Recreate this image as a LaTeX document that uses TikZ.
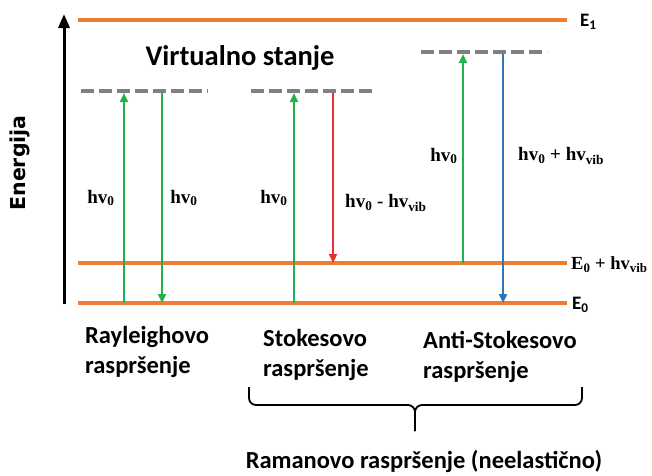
\documentclass[tikz,border=0pt]{standalone}
\usepackage{fontspec}
\setmainfont{Carlito}
\newfontfamily\tnr{Liberation Serif}
\newfontfamily\dvs{DejaVu Sans}
\usetikzlibrary{arrows.meta}
\definecolor{lvl}{RGB}{237,125,49}
\definecolor{grn}{RGB}{34,177,76}
\definecolor{rdd}{RGB}{226,50,50}
\definecolor{blu}{RGB}{46,117,182}
\definecolor{dsh}{RGB}{128,128,128}
\tikzset{
  level/.style={draw=lvl,line width=3.5pt},
  virt/.style={draw=dsh,line width=3.5pt,dash pattern=on 13pt off 5pt},
  trans/.style={line width=2.2pt,-{Triangle[length=9pt,width=8pt]}},
  hvlab/.style={font=\tnr\bfseries\fontsize{19}{21}\selectfont,inner sep=0pt},
  elab/.style={font=\bfseries\fontsize{19}{21}\selectfont,inner sep=0pt,anchor=west},
  captxt/.style={font=\bfseries\fontsize{24.5}{30}\selectfont,align=left,inner sep=0pt,anchor=north west},
  bracestyle/.style={line width=1.8pt,rounded corners=7pt},
}
\begin{document}
\begin{tikzpicture}[x=1pt,y=-1pt]
\useasboundingbox (0,0) rectangle (652,475);
% axis
\coordinate (ax0) at (64,304);
\coordinate (ax1) at (64,14);
\draw[line width=3pt,-{Triangle[length=14pt,width=11pt]}] (ax0) -- (ax1);
\node[rotate=90,font=\dvs\bfseries\fontsize{20.5}{22}\selectfont,inner sep=0pt] (en) at (20,163) {Energija};
% levels
\coordinate (e1l) at (78,20);  \coordinate (e1r) at (567,20);
\coordinate (evl) at (78,263); \coordinate (evr) at (567,263);
\coordinate (e0l) at (78,303); \coordinate (e0r) at (567,303);
\draw[level] (e1l) -- (e1r);
\draw[level] (evl) -- (evr);
\draw[level] (e0l) -- (e0r);
\node[elab] (E1) at (580,22) {E\textsubscript{1}};
\node[elab,font=\tnr\bfseries\fontsize{18.5}{21}\selectfont] (Ev) at (571,265) {E\textsubscript{0} + hv\textsubscript{vib}};
\node[elab] (E0) at (572,305) {E\textsubscript{0}};
% virtual states
\node[font=\bfseries\fontsize{28.5}{30}\selectfont,inner sep=0pt] (vs) at (240,58) {Virtualno stanje};
\coordinate (r1) at (81,91);  \coordinate (r2) at (208,91);
\coordinate (s1) at (251,91); \coordinate (s2) at (376,91);
\coordinate (a1) at (421,52); \coordinate (a2) at (547,52);
\draw[virt] (r1) -- (r2);
\draw[virt] (s1) -- (s2);
\draw[virt] (a1) -- (a2);
% Rayleigh
\coordinate (ru0) at (124,303); \coordinate (ru1) at (124,93);
\coordinate (rd0) at (162,93);  \coordinate (rd1) at (162,303);
\draw[trans,grn] (ru0) -- (ru1);
\draw[trans,grn] (rd0) -- (rd1);
\node[hvlab] (l1) at (101,198) {hv\textsubscript{0}};
\node[hvlab] (l2) at (184,198) {hv\textsubscript{0}};
% Stokes
\coordinate (su0) at (294,303); \coordinate (su1) at (294,93);
\coordinate (sd0) at (333,93);  \coordinate (sd1) at (333,263);
\draw[trans,grn] (su0) -- (su1);
\draw[trans,rdd] (sd0) -- (sd1);
\node[hvlab] (l3) at (274,198) {hv\textsubscript{0}};
\node[hvlab,anchor=west] (l4) at (345,203) {hv\textsubscript{0} - hv\textsubscript{vib}};
% Anti-Stokes
\coordinate (au0) at (463,263); \coordinate (au1) at (463,54);
\coordinate (ad0) at (503,54);  \coordinate (ad1) at (503,303);
\draw[trans,grn] (au0) -- (au1);
\draw[trans,blu] (ad0) -- (ad1);
\node[hvlab] (l5) at (444,156) {hv\textsubscript{0}};
\node[hvlab,anchor=west] (l6) at (518,156) {hv\textsubscript{0} + hv\textsubscript{vib}};
% captions
\node[captxt] (c1) at (85,326) {Rayleighovo\\raspršenje};
\node[captxt] (c2) at (263,329) {Stokesovo\\raspršenje};
\node[captxt] (c3) at (423,331) {Anti-Stokesovo\\raspršenje};
% brace
\coordinate (bl) at (249,387);
\coordinate (br) at (582,387);
\coordinate (bm) at (415,405);
\coordinate (bt) at (415,431);
\draw[bracestyle] (bl) |- (bm) -- (bt);
\draw[bracestyle] (br) |- (bm) -- (bt);
\node[font=\bfseries\fontsize{24.5}{26}\selectfont,inner sep=0pt] (ram) at (424,461) {Ramanovo raspršenje (neelastično)};
\end{tikzpicture}
\end{document}
